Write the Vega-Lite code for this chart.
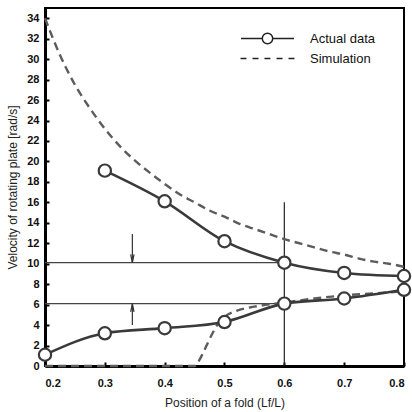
{
  "$schema": "https://vega.github.io/schema/vega-lite/v6.json",
  "width": 359,
  "height": 358,
  "autosize": {"type": "none"},
  "padding": {"left": 45, "top": 8, "right": 8, "bottom": 46},
  "background": "white",
  "config": {
    "view": {"stroke": "black", "strokeWidth": 2},
    "font": "Liberation Sans",
    "axis": {"grid": false}
  },
  "datasets": {
    "main": [
      {"series": "Actual data", "part": "upper", "x": 0.3, "y": 19.1},
      {"series": "Actual data", "part": "upper", "x": 0.4, "y": 16.1},
      {"series": "Actual data", "part": "upper", "x": 0.5, "y": 12.2},
      {"series": "Actual data", "part": "upper", "x": 0.6, "y": 10.1},
      {"series": "Actual data", "part": "upper", "x": 0.7, "y": 9.1},
      {"series": "Actual data", "part": "upper", "x": 0.8, "y": 8.8},
      {"series": "Actual data", "part": "lower", "x": 0.2, "y": 1.1},
      {"series": "Actual data", "part": "lower", "x": 0.3, "y": 3.2},
      {"series": "Actual data", "part": "lower", "x": 0.4, "y": 3.7},
      {"series": "Actual data", "part": "lower", "x": 0.5, "y": 4.3},
      {"series": "Actual data", "part": "lower", "x": 0.6, "y": 6.1},
      {"series": "Actual data", "part": "lower", "x": 0.7, "y": 6.6},
      {"series": "Actual data", "part": "lower", "x": 0.8, "y": 7.45},
      {"series": "Simulation", "part": "upper", "x": 0.2, "y": 34.0},
      {"series": "Simulation", "part": "upper", "x": 0.225, "y": 30.4},
      {"series": "Simulation", "part": "upper", "x": 0.25, "y": 27.5},
      {"series": "Simulation", "part": "upper", "x": 0.275, "y": 25.2},
      {"series": "Simulation", "part": "upper", "x": 0.3, "y": 23.2},
      {"series": "Simulation", "part": "upper", "x": 0.325, "y": 21.5},
      {"series": "Simulation", "part": "upper", "x": 0.35, "y": 20.1},
      {"series": "Simulation", "part": "upper", "x": 0.375, "y": 18.9},
      {"series": "Simulation", "part": "upper", "x": 0.4, "y": 17.8},
      {"series": "Simulation", "part": "upper", "x": 0.425, "y": 16.8},
      {"series": "Simulation", "part": "upper", "x": 0.45, "y": 16.0},
      {"series": "Simulation", "part": "upper", "x": 0.475, "y": 15.2},
      {"series": "Simulation", "part": "upper", "x": 0.5, "y": 14.6},
      {"series": "Simulation", "part": "upper", "x": 0.525, "y": 13.9},
      {"series": "Simulation", "part": "upper", "x": 0.55, "y": 13.4},
      {"series": "Simulation", "part": "upper", "x": 0.575, "y": 12.9},
      {"series": "Simulation", "part": "upper", "x": 0.6, "y": 12.4},
      {"series": "Simulation", "part": "upper", "x": 0.625, "y": 12.0},
      {"series": "Simulation", "part": "upper", "x": 0.65, "y": 11.6},
      {"series": "Simulation", "part": "upper", "x": 0.675, "y": 11.2},
      {"series": "Simulation", "part": "upper", "x": 0.7, "y": 10.9},
      {"series": "Simulation", "part": "upper", "x": 0.725, "y": 10.5},
      {"series": "Simulation", "part": "upper", "x": 0.75, "y": 10.2},
      {"series": "Simulation", "part": "upper", "x": 0.775, "y": 10.0},
      {"series": "Simulation", "part": "upper", "x": 0.8, "y": 9.7},
      {"series": "Simulation", "part": "lower", "x": 0.2, "y": 0},
      {"series": "Simulation", "part": "lower", "x": 0.45, "y": 0},
      {"series": "Simulation", "part": "lower", "x": 0.46, "y": 0.8},
      {"series": "Simulation", "part": "lower", "x": 0.47, "y": 2.0},
      {"series": "Simulation", "part": "lower", "x": 0.48, "y": 3.2},
      {"series": "Simulation", "part": "lower", "x": 0.49, "y": 4.2},
      {"series": "Simulation", "part": "lower", "x": 0.5, "y": 4.8},
      {"series": "Simulation", "part": "lower", "x": 0.52, "y": 5.4},
      {"series": "Simulation", "part": "lower", "x": 0.55, "y": 5.8},
      {"series": "Simulation", "part": "lower", "x": 0.6, "y": 6.2},
      {"series": "Simulation", "part": "lower", "x": 0.65, "y": 6.6},
      {"series": "Simulation", "part": "lower", "x": 0.7, "y": 6.9},
      {"series": "Simulation", "part": "lower", "x": 0.75, "y": 7.1},
      {"series": "Simulation", "part": "lower", "x": 0.8, "y": 7.3}
    ],
    "hrules": [
      {"xa": 0.2, "xb": 0.6, "y": 10.1},
      {"xa": 0.2, "xb": 0.6, "y": 6.1}
    ],
    "vrule": [
      {"x": 0.6, "y": 0, "y2": 16}
    ],
    "arrows": [
      {"x": 0.346, "y": 12.9, "y2": 10.1},
      {"x": 0.346, "y": 4.0, "y2": 6.1}
    ],
    "heads": [
      {"x": 0.346, "y": 10.5, "dir": "down"},
      {"x": 0.346, "y": 5.7, "dir": "up"}
    ]
  },
  "encoding": {
    "x": {
      "field": "x", "type": "quantitative",
      "scale": {"domain": [0.2, 0.8], "nice": false, "zero": false},
      "axis": {
        "values": [0.2, 0.3, 0.4, 0.5, 0.6, 0.7, 0.8],
        "format": ".1f",
        "title": "Position of a fold (Lf/L)",
        "titleFont": "Liberation Sans", "titleFontSize": 12, "titleFontWeight": "normal", "titleColor": "#222",
        "titlePadding": 9,
        "labelFont": "Liberation Sans", "labelFontSize": 11, "labelFontWeight": "bold", "labelColor": "#111",
        "labelPadding": 15,
        "domainColor": "black", "domainWidth": 3,
        "tickColor": "black", "tickWidth": 2, "tickSize": -4
      }
    },
    "y": {
      "field": "y", "type": "quantitative",
      "scale": {"domain": [0, 35], "nice": false},
      "axis": {
        "values": [0, 2, 4, 6, 8, 10, 12, 14, 16, 18, 20, 22, 24, 26, 28, 30, 32, 34],
        "title": "Velocity of rotating plate [rad/s]",
        "titleFont": "Liberation Sans", "titleFontSize": 12, "titleFontWeight": "normal", "titleColor": "#222",
        "titlePadding": 7,
        "labelFont": "Liberation Sans", "labelFontSize": 11, "labelFontWeight": "bold", "labelColor": "#111",
        "labelPadding": 10,
        "domainColor": "black", "domainWidth": 3,
        "tickColor": "black", "tickWidth": 2, "tickSize": -4
      }
    }
  },
  "layer": [
    {
      "data": {"name": "hrules"},
      "mark": {"type": "rule", "color": "#444", "strokeWidth": 1.2},
      "encoding": {
        "x": {"field": "xa", "type": "quantitative"},
        "x2": {"field": "xb"},
        "y": {"field": "y", "type": "quantitative"}
      }
    },
    {
      "data": {"name": "vrule"},
      "mark": {"type": "rule", "color": "#222", "strokeWidth": 1.2},
      "encoding": {"y2": {"field": "y2"}}
    },
    {
      "data": {"name": "arrows"},
      "mark": {"type": "rule", "color": "#333", "strokeWidth": 1.2},
      "encoding": {"y2": {"field": "y2"}}
    },
    {
      "data": {"name": "heads"},
      "mark": {"type": "point", "filled": false, "stroke": "#333", "strokeWidth": 1.2, "size": 70, "opacity": 1},
      "encoding": {
        "shape": {"field": "dir", "type": "nominal", "scale": {"domain": ["down", "up"], "range": ["M-0.4,-1L0,1L0.4,-1", "M-0.4,1L0,-1L0.4,1"]}, "legend": null}
      }
    },
    {
      "data": {"name": "main"},
      "transform": [{"filter": "datum.series === 'Simulation'"}],
      "mark": {"type": "line", "color": "#5c5c5c", "strokeWidth": 2.4, "interpolate": "monotone", "strokeDash": [8, 5]},
      "encoding": {"detail": {"field": "part"}}
    },
    {
      "data": {"name": "main"},
      "transform": [{"filter": "datum.series === 'Actual data'"}],
      "mark": {"type": "line", "color": "#3a3a3a", "strokeWidth": 2.6, "interpolate": "monotone"},
      "encoding": {"detail": {"field": "part"}}
    },
    {
      "data": {"name": "main"},
      "transform": [{"filter": "datum.series === 'Actual data'"}],
      "mark": {"type": "point", "shape": "circle", "filled": false, "fill": "white", "fillOpacity": 1, "stroke": "#3a3a3a", "strokeWidth": 2.2, "size": 150, "opacity": 1}
    },
    {
      "data": {"name": "main"},
      "transform": [{"filter": "datum.x < 0"}],
      "mark": {"type": "point", "filled": false, "fill": "white", "fillOpacity": 1, "stroke": "#222", "strokeWidth": 1.5, "size": 361, "opacity": 1},
      "encoding": {
        "shape": {
          "field": "series", "type": "nominal",
          "scale": {"domain": ["Actual data", "Simulation"], "range": ["M-2.79,0H-0.55M0.55,0H2.79M0.55,0A0.55,0.55,0,1,1,-0.55,0A0.55,0.55,0,1,1,0.55,0", "M-2.84,0H-2.21M-1.58,0H-0.95M-0.32,0H0.31M0.95,0H1.58M2.21,0H2.84"]},
          "legend": {
            "title": null,
            "orient": "none",
            "legendX": 212,
            "legendY": 20,
            "padding": 0,
            "rowPadding": 1,
            "symbolSize": 361,
            "labelOffset": 32,
            "labelFont": "Liberation Sans",
            "labelFontSize": 13,
            "labelColor": "#111"
          }
        }
      }
    }
  ],
  "resolve": {"scale": {"shape": "independent"}}
}
